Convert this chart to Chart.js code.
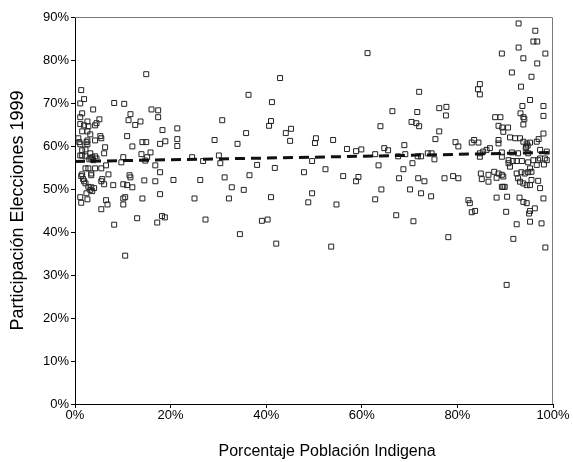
<!DOCTYPE html>
<html>
<head>
<meta charset="utf-8">
<script src="https://cdn.jsdelivr.net/npm/chart.js@4.4.1/dist/chart.umd.min.js"></script>
<style>
  html, body { margin: 0; padding: 0; background: #fff; }
  #grafico { display: block; }
</style>
</head>
<body>
<canvas id="grafico" width="573" height="462"></canvas>
<script>
// municipios con 0-18% de poblacion indigena
const izqX = [1.3,1.9,1.1,8.2,10.3,3.8,1.5,11.6,16.0,17.4,17.4,1.1,5.1,2.6,11.2,13.7,4.5,4.2,1.1,1.9,12.6,2.8,1.5,2.6,18.3,3.2,0.7,5.3,5.5,4.2,10.9,2.6,0.9,1.1,2.4,2.6,14.1,14.9,17.8,18.9,6.3,12.0,1.5,2.2,6.1,3.2,1.1,1.5,2.2,3.6,4.2,4.5,3.0,3.4,3.8,13.9,15.8,10.1,15.1,14.7,9.7,16.8,6.5,2.2,2.8,4.2,5.5,17.8,7.0,3.4,3.4,1.5,1.3,11.4,11.6,5.7,5.5,1.7,1.9,14.5,16.8,8.0,6.1,10.1,10.9,12.0,2.2,2.8,3.4,4.0,3.2,3.6,2.4,1.1,1.3,2.6,6.5,6.8,5.5,10.1,10.5,10.1,14.1,17.8,13.0,17.2,8.2,10.5,14.9];
const izqY = [73.0,70.9,69.9,70.0,69.8,68.5,67.6,67.4,68.5,68.3,66.7,66.7,66.2,65.7,66.0,65.7,65.3,64.8,65.1,64.8,64.9,64.6,63.4,63.4,63.7,62.7,61.8,62.3,61.8,61.3,62.3,61.3,60.9,60.4,60.9,60.4,60.9,60.9,60.5,61.1,59.7,59.9,59.0,59.2,58.3,58.3,57.8,57.8,57.6,57.4,57.6,57.1,56.9,57.1,56.7,58.1,58.5,57.4,57.4,56.6,56.2,55.5,55.5,54.8,54.8,54.8,54.8,53.9,53.4,53.6,53.2,53.4,53.0,53.2,52.7,52.3,51.8,52.3,51.8,52.0,51.8,50.9,51.1,51.1,50.9,50.4,51.3,50.5,50.4,50.2,49.8,49.5,49.0,48.1,46.8,47.6,47.4,46.4,45.3,47.8,48.1,46.4,47.8,48.8,43.2,42.2,41.7,34.5,76.7];

// 18-60%
const centroX = [36.3,21.4,30.8,35.8,21.4,21.4,29.2,34.0,24.5,26.8,30.1,30.4,38.1,20.6,26.2,31.3,36.5,32.8,35.3,25.0,32.2,18.2,18.8,27.3,34.5,42.9,41.2,41.0,40.6,44.1,45.2,45.0,50.4,50.2,54.0,56.9,58.8,41.8,47.9,49.6,52.4,56.1,58.8,59.3,41.0,49.6,48.8,54.7,39.1,40.3,42.1,53.6];
const centroY = [71.9,64.1,66.0,63.0,61.6,60.0,61.4,60.5,57.4,56.5,57.8,56.0,55.6,52.1,52.1,52.7,53.2,50.4,49.8,47.8,47.8,43.7,43.4,42.9,39.5,75.8,70.2,65.8,64.7,63.0,64.0,61.2,61.8,60.7,61.4,59.3,58.8,54.9,53.9,56.5,54.6,53.0,51.8,52.8,48.1,49.0,46.9,46.4,42.6,42.9,37.3,36.6];

// 60-80%
const medioX = [61.2,72.0,66.4,71.6,76.2,77.7,77.6,70.4,71.4,72.0,63.9,76.2,75.4,79.6,80.2,68.9,59.9,64.7,65.5,62.8,67.6,69.1,71.7,72.4,73.8,74.6,75.2,63.5,70.6,68.7,67.8,71.8,73.1,77.3,79.1,80.2,64.1,70.1,72.4,74.5,62.8,67.2,70.8,78.1];
const medioY = [81.6,72.6,68.1,67.9,68.8,69.1,67.1,65.6,65.3,64.6,64.6,63.4,61.6,60.9,59.9,60.2,59.2,59.5,59.0,58.1,57.6,58.1,57.6,57.6,58.3,58.3,56.9,55.5,56.0,54.6,52.5,52.5,51.8,52.5,53.0,52.5,49.9,49.9,49.0,48.3,47.6,43.9,42.5,38.8];

// 80-100%
const derX = [92.8,96.3,95.9,96.7,92.8,89.3,93.8,98.4,96.7,91.4,95.5,93.3,84.7,84.3,84.7,95.2,93.6,98.0,93.2,93.8,94.0,98.0,87.9,89.0,88.6,89.4,90.6,89.6,93.8,98.0,83.5,84.4,83.0,88.6,88.6,91.0,92.1,93.1,93.8,94.5,95.2,96.6,97.0,86.8,86.1,85.4,84.7,84.7,89.3,91.4,92.7,94.8,97.3,98.7,97.3,98.3,89.3,90.7,91.6,92.4,93.5,94.8,95.9,96.9,98.7,90.7,91.0,95.2,95.5,96.6,98.1,84.9,86.5,87.7,88.6,89.3,89.6,88.2,85.1,86.5,92.4,93.4,94.1,94.8,92.7,93.1,93.8,94.5,95.2,95.5,96.9,97.3,89.3,89.6,89.9,88.2,90.4,93.0,93.8,94.5,98.0,82.6,82.3,83.7,83.0,90.2,95.2,96.2,95.0,92.4,95.2,97.6,91.7,98.4,90.3,94.4,94.7,94.3];
const derY = [88.5,86.8,84.3,84.3,82.9,81.5,80.4,81.5,79.2,77.1,76.1,73.8,74.4,73.2,72.0,70.7,69.3,69.3,67.6,66.7,66.3,67.0,66.7,66.7,64.7,64.3,64.3,63.3,65.0,62.9,61.4,60.8,60.8,61.4,60.6,62.0,61.8,61.8,61.0,60.6,60.8,61.0,61.6,59.5,59.1,58.7,58.3,57.5,58.5,58.5,58.3,58.3,59.1,58.7,57.1,57.1,57.5,56.7,56.5,56.5,56.5,56.2,56.7,56.7,56.7,56.0,55.2,54.8,54.0,55.6,55.7,53.6,53.3,54.0,53.6,53.3,52.9,52.6,52.3,51.7,53.6,53.9,53.6,53.9,52.5,51.7,51.3,50.9,50.9,52.1,51.9,50.2,50.5,50.5,50.5,48.0,48.2,48.0,47.0,46.7,47.8,46.7,47.4,44.9,44.6,44.7,44.9,45.5,44.3,41.8,42.4,42.0,38.4,36.4,27.7,59.8,60.1,59.5];

// linea de tendencia
const tendenciaX = [0, 50, 100];
const tendenciaY = [56.4, 57.4, 58.5];

const ticksX = [0, 20, 40, 60, 80, 100];
const ticksY = [0, 10, 20, 30, 40, 50, 60, 70, 80, 90];

const tituloX = 'Porcentaje Población Indigena';
const tituloY = 'Participación Elecciones 1999';

const puntos = [];
[[izqX, izqY], [centroX, centroY], [medioX, medioY], [derX, derY]].forEach(([xs, ys]) => {
    xs.forEach((x, i) => puntos.push({ x, y: ys[i] }));
});
const tendencia = tendenciaX.map((x, i) => ({ x, y: tendenciaY[i] }));

Chart.defaults.font.family = '"Liberation Sans", Arial, sans-serif';
Chart.defaults.color = '#000';

// marco gris arriba/derecha y titulo del eje x
const marco = {
    id: 'marco',
    afterDraw(chart) {
        const { ctx, chartArea: a } = chart;
        ctx.save();
        ctx.strokeStyle = '#7a7a7a';
        ctx.lineWidth = 1;
        ctx.beginPath();
        ctx.moveTo(a.left, a.top + 0.5);
        ctx.lineTo(a.right - 0.5, a.top + 0.5);
        ctx.lineTo(a.right - 0.5, a.bottom);
        ctx.stroke();
        ctx.fillStyle = '#000';
        ctx.font = '16px "Liberation Sans", Arial, sans-serif';
        ctx.textAlign = 'center';
        ctx.textBaseline = 'middle';
        ctx.fillText(tituloX, (a.left + a.right) / 2 + 13, 452);
        ctx.restore();
    }
};

new Chart(document.getElementById('grafico').getContext('2d'), {
    type: 'scatter',
    data: {
        datasets: [
            {
                label: 'Tendencia', data: tendencia, showLine: true,
                borderColor: '#111', borderWidth: 3, borderDash: [10, 6],
                pointRadius: 0, fill: false
            },
            {
                label: 'Municipios', data: puntos,
                pointStyle: 'rect', pointRadius: 3.5, pointBorderWidth: 1,
                pointBorderColor: '#222', pointBackgroundColor: 'rgba(255,255,255,0)'
            }
        ]
    },
    options: {
        responsive: false, animation: false, devicePixelRatio: 1,
        layout: { padding: { top: 17, right: 20, left: 0, bottom: 0 } },
        plugins: { legend: { display: false }, tooltip: { enabled: false } },
        scales: {
            x: {
                type: 'linear', min: 0, max: 100,
                afterFit: s => { s.height = 58; },
                afterBuildTicks: s => { s.ticks = ticksX.map(v => ({ value: v })); },
                ticks: { callback: v => v + '%', font: { size: 13 }, padding: 0, maxRotation: 0 },
                grid: { drawOnChartArea: false, drawTicks: true, tickLength: 4, color: '#000' },
                border: { color: '#000', width: 1 }
            },
            y: {
                min: 0, max: 90,
                afterFit: s => { s.width = 75; },
                afterBuildTicks: s => { s.ticks = ticksY.map(v => ({ value: v })); },
                ticks: { callback: v => v + '%', font: { size: 13 }, padding: 2 },
                grid: { drawOnChartArea: false, drawTicks: true, tickLength: 4, color: '#000' },
                border: { color: '#000', width: 1 },
                title: { display: true, text: tituloY, font: { size: 18 }, padding: { top: 7 } }
            }
        }
    },
    plugins: [marco]
});
</script>
</body>
</html>
